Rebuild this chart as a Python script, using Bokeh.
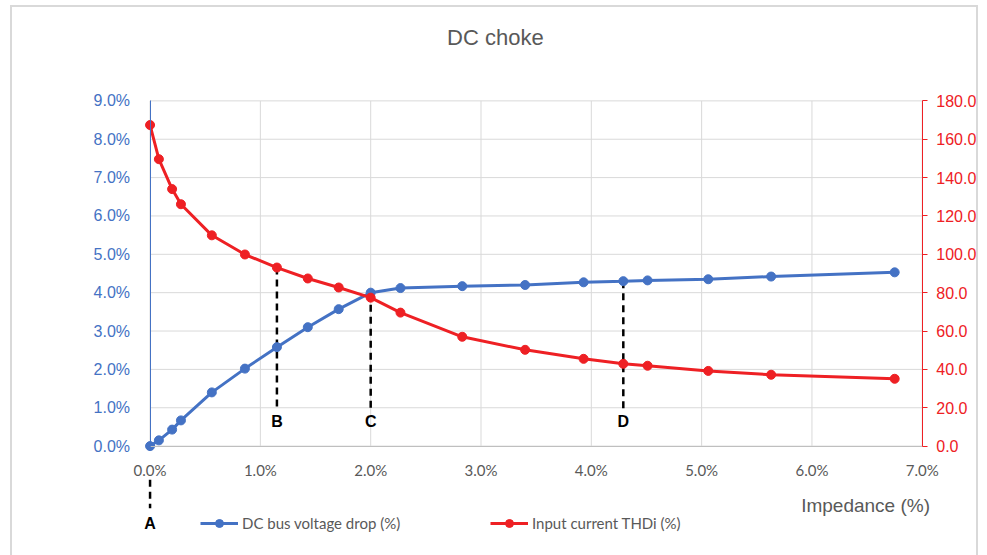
from bokeh.plotting import figure
from bokeh.models import (Range1d, LinearAxis, PrintfTickFormatter, FixedTicker,
                          Label, Legend, LegendItem)
from bokeh.embed import file_html
from bokeh.resources import INLINE

# ---------------- data ----------------
impedance = [0.0, 0.08, 0.20, 0.28, 0.56, 0.86, 1.15, 1.43, 1.71, 2.00,
             2.27, 2.83, 3.40, 3.93, 4.29, 4.51, 5.06, 5.63, 6.75]
voltage_drop = [0.0, 0.15, 0.43, 0.67, 1.40, 2.02, 2.58, 3.10, 3.57, 4.00,
                4.12, 4.17, 4.20, 4.27, 4.30, 4.32, 4.35, 4.42, 4.53]
thdi = [167.4, 149.6, 134.0, 126.1, 109.9, 99.9, 93.1, 87.4, 82.7, 77.4,
        69.6, 57.0, 50.2, 45.5, 42.9, 41.9, 39.2, 37.2, 35.1]

x_ticks = [0, 1, 2, 3, 4, 5, 6, 7]
y_ticks = [0, 1, 2, 3, 4, 5, 6, 7, 8, 9]
thd_ticks = [0, 20, 40, 60, 80, 100, 120, 140, 160, 180]

marker_names = ["B", "C", "D"]
marker_index = [6, 9, 14]
marker_series = ["thdi", "drop", "drop"]

BLUE = "#4472C4"
RED = "#EE2024"
GRAY = "#595959"
GRID = "#d9d9d9"

# visible ranges extended around the axes so that every text (tick labels,
# title, A, axis title, legend) can be drawn inside the frame
X_MIN, X_MAX = -1.247, 7.528
Y_MIN, Y_MAX = -2.904, 11.434
RATIO = thd_ticks[-1] / y_ticks[-1]

p = figure(width=968, height=550, output_backend="svg", toolbar_location=None,
           x_range=Range1d(X_MIN, X_MAX), y_range=Range1d(Y_MIN, Y_MAX),
           min_border_left=0, min_border_right=0, min_border_top=0,
           min_border_bottom=0, outline_line_color=None,
           styles={"margin-left": "10px", "margin-top": "5px",
                   "border": "2px solid #d9d9d9", "border-bottom": "none",
                   "box-sizing": "border-box"})
p.extra_y_ranges = {"thd": Range1d(Y_MIN * RATIO, Y_MAX * RATIO)}

# grid (limited to the data area)
p.xgrid.visible = False
p.ygrid.visible = False
p.segment(x0=x_ticks, y0=[y_ticks[0]] * len(x_ticks), x1=x_ticks,
          y1=[y_ticks[-1]] * len(x_ticks), line_color=GRID, line_width=1)
p.segment(x0=[x_ticks[0]] * len(y_ticks), y0=y_ticks,
          x1=[x_ticks[-1]] * len(y_ticks), y1=y_ticks, line_color=GRID,
          line_width=1)

# bottom axis (drawn at y = 0)
xa = p.xaxis[0]
xa.fixed_location = 0
xa.bounds = (x_ticks[0], x_ticks[-1])
xa.ticker = FixedTicker(ticks=x_ticks)
xa.formatter = PrintfTickFormatter(format="%.1f%%")
xa.axis_line_color = "#bfbfbf"
xa.major_tick_line_color = None
xa.minor_tick_line_color = None
xa.major_label_text_color = GRAY
xa.major_label_text_font = "Lato"
xa.major_label_text_font_size = "15px"
xa.major_label_standoff = 9

# left axis (drawn at x = 0)
ya = p.yaxis[0]
ya.fixed_location = 0
ya.bounds = (y_ticks[0], y_ticks[-1])
ya.ticker = FixedTicker(ticks=y_ticks)
ya.formatter = PrintfTickFormatter(format="%.1f%%")
ya.axis_line_color = BLUE
ya.major_tick_line_color = None
ya.minor_tick_line_color = None
ya.major_label_text_color = BLUE
ya.major_label_text_font = "Liberation Sans"
ya.major_label_text_font_size = "16px"
ya.major_label_standoff = 14

# right axis (drawn at x = 7 %)
ra = LinearAxis(y_range_name="thd", ticker=FixedTicker(ticks=thd_ticks),
                formatter=PrintfTickFormatter(format="%.1f"),
                bounds=(thd_ticks[0], thd_ticks[-1]), fixed_location=x_ticks[-1])
ra.axis_line_color = RED
ra.major_tick_line_color = RED
ra.major_tick_in = 0
ra.major_tick_out = 5
ra.minor_tick_line_color = None
ra.major_label_text_color = RED
ra.major_label_text_font = "Liberation Sans"
ra.major_label_text_font_size = "16px"
ra.major_label_standoff = 9
p.add_layout(ra, "right")

# marker dashed lines (B, C, D)
for name, idx, ser in zip(marker_names, marker_index, marker_series):
    xv = impedance[idx]
    top = thdi[idx] / RATIO if ser == "thdi" else voltage_drop[idx]
    p.segment(x0=[xv], y0=[top], x1=[xv], y1=[0.95], line_color="black",
              line_width=2.5, line_dash="7 5")
    p.add_layout(Label(x=xv, y=0.63, text=name, text_align="center",
                       text_baseline="middle", text_font="Liberation Sans",
                       text_font_style="bold", text_font_size="16px",
                       text_color="black"))

# marker A below the axis
xa0 = impedance[0]
p.segment(x0=[xa0], y0=[-0.88], x1=[xa0], y1=[-1.62], line_color="black",
          line_width=2.5, line_dash="7 5")
p.add_layout(Label(x=xa0, y=-2.02, text="A", text_align="center",
                   text_baseline="middle", text_font="Liberation Sans",
                   text_font_style="bold", text_font_size="16px",
                   text_color="black"))

# series
bl = p.line(impedance, voltage_drop, line_color=BLUE, line_width=3)
bs = p.scatter(impedance, voltage_drop, size=9, fill_color=BLUE, line_color=BLUE)
rl = p.line(impedance, thdi, y_range_name="thd", line_color=RED, line_width=3)
rs = p.scatter(impedance, thdi, y_range_name="thd", size=9, fill_color=RED,
               line_color=RED)

legend = Legend(items=[LegendItem(label="DC bus voltage drop (%)", renderers=[bl, bs]),
                       LegendItem(label="Input current THDi (%)", renderers=[rl, rs])],
                location=(51 + 137, 24), orientation="horizontal",
                padding=0, margin=0, spacing=0, glyph_width=38, glyph_height=20,
                label_width=248, label_standoff=4, label_height=20,
                label_text_font="Lato", label_text_font_size="15px",
                label_text_color=GRAY, border_line_color=None,
                background_fill_alpha=0)
p.add_layout(legend, "center")

# title and axis title
p.add_layout(Label(x=3.13, y=10.65, text="DC choke", text_align="center",
                   text_baseline="middle", text_font="Liberation Sans",
                   text_font_size="22px", text_color=GRAY))
p.add_layout(Label(x=7.07, y=-1.54, text="Impedance (%)", text_align="right",
                   text_baseline="middle", text_font="Liberation Sans",
                   text_font_size="19px", text_color=GRAY))

open("out.html", "w").write(file_html(p, INLINE))
